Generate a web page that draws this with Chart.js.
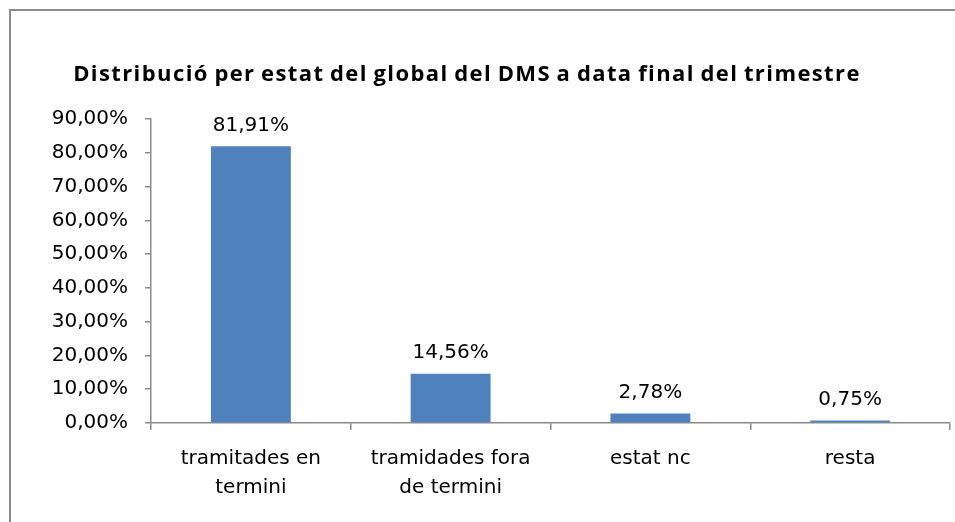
<!DOCTYPE html>
<html>
<head>
<meta charset="utf-8">
<script src="https://cdn.jsdelivr.net/npm/chart.js@4"></script>
<style>
html,body{margin:0;padding:0;background:#fff;}
#wrap{width:955px;height:522px;position:relative;}
</style>
</head>
<body>
<div id="wrap"><canvas id="c" width="955" height="522"></canvas></div>
<script>
const titleText = 'Distribució per estat del global del DMS a data final del trimestre';
const categories = [['tramitades en', 'termini'], ['tramidades fora', 'de termini'], ['estat nc'], ['resta']];
const values = [81.91, 14.56, 2.78, 0.75];
const yMin = 0, yMax = 90, yStep = 10;

const fmt = v => v.toFixed(2).replace('.', ',') + '%';
const FONT = 'DejaVu Sans';

const frame = {
  id: 'frame',
  beforeDraw(chart) {
    const ctx = chart.ctx;
    ctx.save();
    ctx.fillStyle = '#fff';
    ctx.fillRect(0, 0, chart.width, chart.height);
    ctx.fillStyle = '#8a8a8a';
    ctx.fillRect(9, 9, chart.width, 2);
    ctx.fillRect(9, 9, 2, chart.height);
    ctx.restore();
  },
  afterDraw(chart) {
    const ctx = chart.ctx;
    ctx.save();
    ctx.fillStyle = '#000';
    ctx.font = 'bold 22px "Open Sans"';
    if ('letterSpacing' in ctx) ctx.letterSpacing = '1.4px';
    if ('wordSpacing' in ctx) ctx.wordSpacing = '-1.5px';
    ctx.textAlign = 'center';
    ctx.textBaseline = 'middle';
    ctx.fillText(titleText, 467, 75);
    ctx.restore();
  }
};

const valueLabels = {
  id: 'valueLabels',
  afterDatasetsDraw(chart) {
    const ctx = chart.ctx;
    const meta = chart.getDatasetMeta(0);
    ctx.save();
    ctx.fillStyle = '#000';
    ctx.font = '20px "' + FONT + '"';
    ctx.textAlign = 'center';
    ctx.textBaseline = 'middle';
    meta.data.forEach((bar, i) => {
      ctx.fillText(fmt(values[i]), bar.x, bar.y - 21);
    });
    ctx.restore();
  }
};

new Chart(document.getElementById('c'), {
  type: 'bar',
  data: {
    labels: categories,
    datasets: [{
      data: values,
      backgroundColor: '#4F81BD',
      borderWidth: 0,
      barPercentage: 0.4,
      categoryPercentage: 1.0
    }]
  },
  options: {
    responsive: false,
    animation: false,
    devicePixelRatio: 1,
    layout: { padding: { left: 0, right: 5, top: 119, bottom: 0 } },
    plugins: {
      legend: { display: false },
      title: { display: false },
      tooltip: { enabled: false }
    },
    scales: {
      x: {
        afterFit(scale) { scale.height = 99; },
        grid: { drawOnChartArea: false, drawTicks: true, tickLength: 7, color: '#8a8a8a', lineWidth: 1.5, offset: true },
        border: { color: '#8a8a8a', width: 1.5 },
        ticks: { color: '#000', font: { family: FONT, size: 20, lineHeight: 1.45 }, padding: 14, maxRotation: 0, autoSkip: false }
      },
      y: {
        min: yMin, max: yMax,
        afterFit(scale) { scale.width = 151; },
        grid: { drawOnChartArea: false, drawTicks: true, tickLength: 6, color: '#8a8a8a', lineWidth: 1.5 },
        border: { color: '#8a8a8a', width: 1.5 },
        ticks: { stepSize: yStep, color: '#000', font: { family: FONT, size: 20 }, padding: 17, callback: v => fmt(v) }
      }
    }
  },
  plugins: [frame, valueLabels]
});
</script>
</body>
</html>
